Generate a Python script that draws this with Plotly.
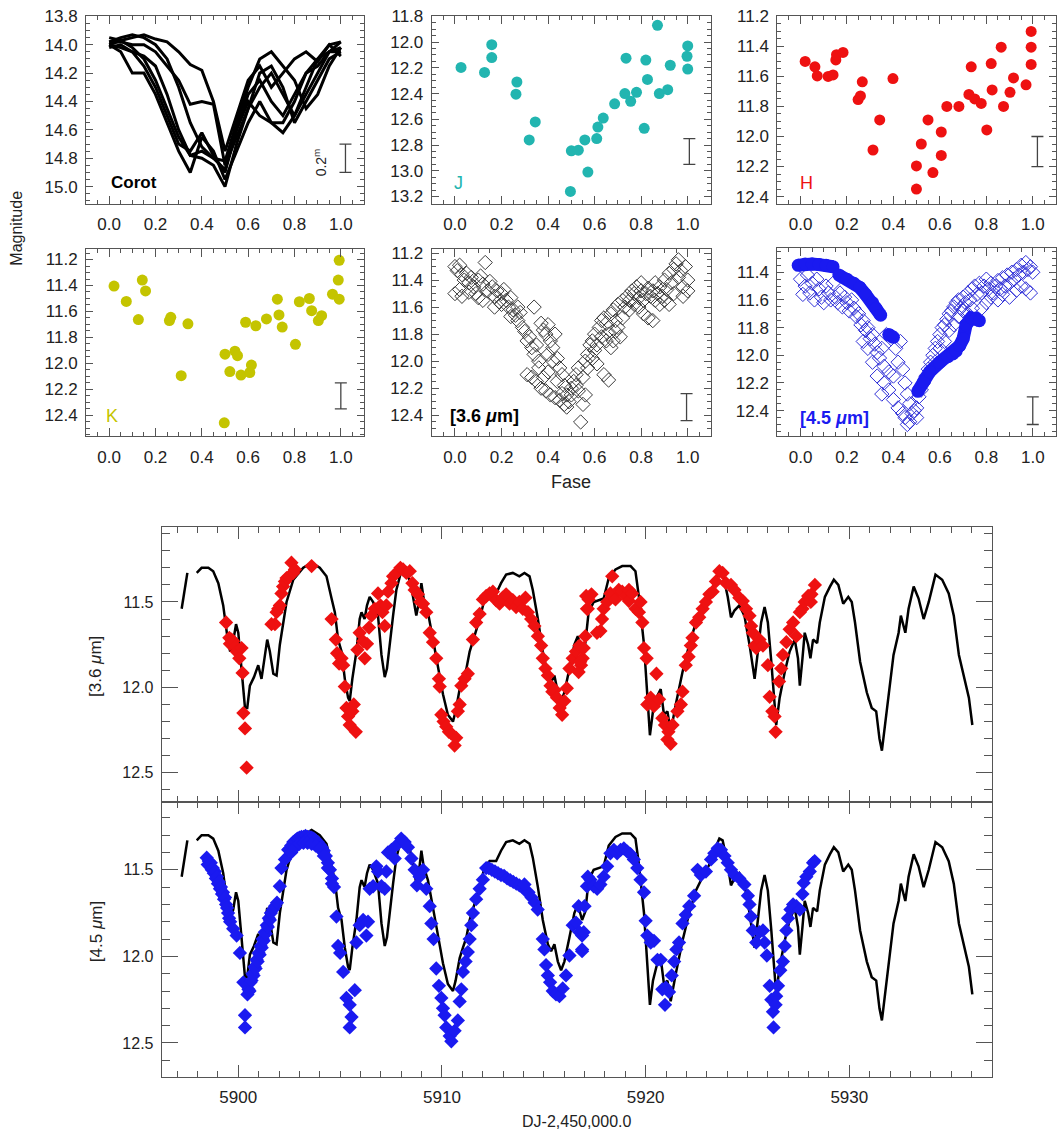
import plotly.graph_objects as go

W, H = 1058, 1137
FONT = "Liberation Sans, Arial, sans-serif"
AX = "#555555"
TXT = "#222222"
TEAL = "#22b5b0"
RED = "#ee1111"
OLIVE = "#c4c400"
BLUE = "#1a1af0"

# ---------------- phase-folded panels ----------------
corot_phase = [0.00, 0.05, 0.10, 0.15, 0.20, 0.25, 0.30, 0.35, 0.40, 0.45, 0.50,
               0.55, 0.60, 0.65, 0.70, 0.75, 0.80, 0.85, 0.90, 0.95, 1.00]
corot_cycle1 = [14.00, 13.97, 13.95, 13.93, 13.96, 13.98, 14.05, 14.14, 14.18, 14.40, 14.75,
                14.50, 14.25, 14.15, 14.30, 14.20, 14.10, 14.05, 14.12, 14.00, 13.98]
corot_cycle2 = [13.98, 13.98, 14.00, 14.00, 14.05, 14.15, 14.25, 14.42, 14.40, 14.42, 14.85,
                14.65, 14.45, 14.30, 14.20, 14.35, 14.50, 14.30, 14.10, 14.05, 14.02]
corot_cycle3 = [14.00, 14.05, 14.20, 14.20, 14.35, 14.55, 14.75, 14.90, 14.65, 14.75, 14.95,
                14.75, 14.55, 14.40, 14.55, 14.62, 14.50, 14.35, 14.20, 14.05, 14.05]
corot_cycle4 = [13.95, 13.97, 14.02, 14.10, 14.25, 14.45, 14.65, 14.78, 14.80, 14.85, 15.00,
                14.70, 14.45, 14.20, 14.15, 14.30, 14.55, 14.40, 14.25, 14.10, 14.05]
corot_cycle5 = [14.02, 14.00, 14.05, 14.15, 14.30, 14.50, 14.70, 14.75, 14.62, 14.78, 14.90,
                14.60, 14.35, 14.25, 14.40, 14.50, 14.35, 14.20, 14.10, 14.00, 14.08]
corot_cycle6 = [13.98, 13.95, 13.93, 13.95, 14.00, 14.10, 14.30, 14.55, 14.72, 14.80, 14.82,
                14.55, 14.30, 14.10, 14.05, 14.15, 14.25, 14.45, 14.35, 14.15, 14.02]
corot_cycle7 = [14.00, 14.02, 14.05, 14.08, 14.15, 14.35, 14.60, 14.78, 14.75, 14.80, 14.88,
                14.60, 14.40, 14.50, 14.55, 14.55, 14.40, 14.20, 14.15, 14.05, 13.98]
corot_cycles = [corot_cycle1, corot_cycle2, corot_cycle3, corot_cycle4,
                corot_cycle5, corot_cycle6, corot_cycle7]

j_phase = [0.026, 0.127, 0.158, 0.158, 0.266, 0.262, 0.319, 0.345, 0.496, 0.50, 0.53, 0.558,
           0.571, 0.609, 0.614, 0.637, 0.686, 0.73, 0.735, 0.755, 0.78, 0.813, 0.82, 0.827,
           0.87, 0.878, 0.914, 0.925, 1.0, 0.997, 1.0]
j_mag = [12.197, 12.236, 12.02, 12.12, 12.31, 12.405, 12.76, 12.62, 13.16, 12.845, 12.84, 12.76,
         13.01, 12.75, 12.66, 12.59, 12.48, 12.40, 12.125, 12.46, 12.39, 12.67, 12.14, 12.29,
         11.87, 12.40, 12.37, 12.18, 12.03, 12.11, 12.21]

h_phase = [0.02, 0.062, 0.072, 0.119, 0.14, 0.152, 0.155, 0.183, 0.248, 0.258, 0.266, 0.312,
           0.341, 0.398, 0.499, 0.499, 0.52, 0.549, 0.57, 0.606, 0.606, 0.63, 0.682, 0.725,
           0.735, 0.75, 0.778, 0.802, 0.821, 0.825, 0.864, 0.874, 0.902, 0.917, 0.971, 0.993,
           0.993, 0.993]
h_mag = [11.50, 11.536, 11.597, 11.60, 11.59, 11.49, 11.455, 11.44, 11.754, 11.73, 11.636, 12.09,
         11.89, 11.614, 12.35, 12.196, 12.05, 11.89, 12.24, 11.97, 12.126, 11.80, 11.80, 11.72,
         11.536, 11.75, 11.78, 11.956, 11.514, 11.69, 11.405, 11.80, 11.706, 11.61, 11.656, 11.30,
         11.405, 11.52]

k_phase = [0.021, 0.074, 0.126, 0.143, 0.157, 0.26, 0.266, 0.34, 0.311, 0.497, 0.5, 0.521,
           0.543, 0.554, 0.569, 0.589, 0.607, 0.614, 0.633, 0.679, 0.726, 0.733, 0.747, 0.804,
           0.821, 0.864, 0.874, 0.903, 0.917, 0.964, 0.993, 0.989, 0.993]
k_mag = [11.404, 11.523, 11.662, 11.358, 11.442, 11.67, 11.645, 11.695, 12.094, 12.457, 11.929,
         12.063, 11.906, 11.94, 12.09, 11.683, 12.07, 12.013, 11.71, 11.657, 11.505, 11.627, 11.72,
         11.853, 11.525, 11.50, 11.594, 11.67, 11.632, 11.467, 11.505, 11.358, 11.206]

ch1_fold = [
    (0.00, 11.30), (0.01, 11.33), (0.02, 11.29), (0.03, 11.36), (0.00, 11.50), (0.02, 11.47),
    (0.04, 11.40), (0.05, 11.35), (0.06, 11.42), (0.07, 11.38), (0.08, 11.45), (0.09, 11.50),
    (0.10, 11.40), (0.11, 11.37), (0.12, 11.43), (0.13, 11.27), (0.14, 11.48), (0.15, 11.41),
    (0.03, 11.52), (0.06, 11.49), (0.10, 11.53), (0.12, 11.55),
    (0.16, 11.45), (0.17, 11.52), (0.18, 11.48), (0.19, 11.56), (0.20, 11.50), (0.21, 11.47),
    (0.22, 11.55), (0.23, 11.60), (0.24, 11.53), (0.25, 11.62), (0.26, 11.66), (0.27, 11.70),
    (0.28, 11.64), (0.29, 11.75), (0.30, 11.78), (0.20, 11.58), (0.17, 11.60), (0.24, 11.67),
    (0.27, 11.60),
    (0.31, 11.85), (0.32, 11.82), (0.33, 11.90), (0.34, 11.60), (0.34, 11.95), (0.35, 11.88),
    (0.36, 12.00), (0.37, 11.72), (0.38, 11.77), (0.39, 11.80), (0.40, 11.73), (0.41, 11.85),
    (0.42, 11.90), (0.43, 11.80), (0.44, 11.98), (0.45, 12.05), (0.46, 12.10), (0.47, 12.18),
    (0.48, 12.25), (0.49, 12.30), (0.50, 12.20), (0.31, 12.10), (0.33, 12.12), (0.35, 12.15),
    (0.37, 12.20), (0.39, 12.22), (0.41, 12.25), (0.43, 12.27), (0.45, 12.29), (0.47, 12.32),
    (0.48, 12.34), (0.36, 12.05), (0.40, 12.08), (0.42, 12.00), (0.38, 12.12), (0.44, 12.15),
    (0.46, 12.24), (0.40, 11.95),
    (0.50, 12.25), (0.51, 12.15), (0.52, 12.10), (0.53, 12.05), (0.54, 12.45), (0.52, 12.18),
    (0.55, 12.32), (0.53, 12.22), (0.56, 12.00), (0.57, 11.95), (0.58, 11.88), (0.59, 11.85),
    (0.60, 11.80), (0.56, 12.25), (0.55, 12.12), (0.57, 12.05), (0.59, 11.98), (0.60, 11.92),
    (0.61, 12.02), (0.62, 11.75), (0.63, 11.70), (0.64, 11.68), (0.65, 11.72), (0.66, 11.80),
    (0.67, 11.65), (0.68, 11.62), (0.69, 11.70), (0.70, 11.58), (0.61, 11.88), (0.63, 11.82),
    (0.65, 11.85), (0.66, 12.14), (0.64, 12.10), (0.67, 11.90), (0.68, 11.85), (0.69, 11.78),
    (0.70, 11.75), (0.71, 11.82), (0.72, 11.68),
    (0.72, 11.55), (0.73, 11.60), (0.74, 11.52), (0.75, 11.55), (0.76, 11.48), (0.77, 11.50),
    (0.78, 11.45), (0.79, 11.53), (0.80, 11.48), (0.81, 11.55), (0.82, 11.50), (0.83, 11.46),
    (0.84, 11.52), (0.85, 11.48), (0.75, 11.62), (0.77, 11.58), (0.79, 11.60), (0.81, 11.65),
    (0.83, 11.68), (0.85, 11.70), (0.80, 11.42), (0.86, 11.42),
    (0.86, 11.55), (0.87, 11.50), (0.88, 11.45), (0.89, 11.52), (0.90, 11.40), (0.91, 11.47),
    (0.92, 11.35), (0.93, 11.42), (0.94, 11.50), (0.95, 11.28), (0.96, 11.38), (0.97, 11.33),
    (0.98, 11.45), (0.99, 11.30), (1.00, 11.40), (1.00, 11.48), (0.96, 11.25), (0.94, 11.32),
    (0.90, 11.55), (0.92, 11.58), (0.98, 11.52), (0.88, 11.58),
]

ch2_fold = [
    (0.00, 11.45), (0.01, 11.56), (0.02, 11.50), (0.03, 11.42), (0.04, 11.55), (0.05, 11.48),
    (0.06, 11.60), (0.07, 11.45), (0.08, 11.52), (0.09, 11.58), (0.10, 11.62), (0.11, 11.50),
    (0.12, 11.55), (0.13, 11.60), (0.14, 11.48), (0.15, 11.58), (0.16, 11.62), (0.17, 11.55),
    (0.18, 11.65), (0.19, 11.58), (0.20, 11.62), (0.21, 11.68), (0.22, 11.60), (0.23, 11.66),
    (0.24, 11.72), (0.25, 11.70), (0.26, 11.78), (0.27, 11.75), (0.28, 11.82), (0.29, 11.80),
    (0.30, 11.88), (0.31, 11.85), (0.32, 11.92), (0.33, 11.98), (0.34, 12.02), (0.35, 11.95),
    (0.36, 12.08), (0.37, 11.85), (0.38, 12.12), (0.39, 11.88), (0.40, 12.15), (0.41, 11.95),
    (0.42, 12.05), (0.43, 11.90), (0.44, 12.10), (0.45, 12.20), (0.46, 12.28), (0.47, 12.35),
    (0.48, 12.42), (0.45, 12.45), (0.46, 12.50), (0.47, 12.48), (0.49, 12.40), (0.50, 12.38),
    (0.51, 12.30), (0.50, 12.45), (0.52, 12.25), (0.53, 12.20), (0.54, 12.15), (0.36, 12.20),
    (0.38, 12.25), (0.40, 12.32), (0.42, 12.38), (0.44, 12.42), (0.35, 12.28), (0.33, 12.15),
    (0.31, 12.05), (0.29, 11.95), (0.27, 11.90),
    (0.55, 12.10), (0.56, 12.05), (0.57, 12.00), (0.58, 11.95), (0.59, 11.90), (0.60, 11.85),
    (0.61, 11.80), (0.62, 11.78), (0.63, 11.74), (0.64, 11.70), (0.65, 11.68), (0.66, 11.65),
    (0.67, 11.62), (0.68, 11.60), (0.69, 11.66), (0.70, 11.58), (0.71, 11.62), (0.72, 11.55),
    (0.73, 11.60), (0.74, 11.52), (0.60, 11.95), (0.62, 11.90), (0.58, 12.05), (0.64, 11.82),
    (0.66, 11.78), (0.68, 11.72), (0.70, 11.68), (0.72, 11.70), (0.74, 11.66),
    (0.75, 11.50), (0.76, 11.56), (0.77, 11.48), (0.78, 11.55), (0.79, 11.50), (0.80, 11.45),
    (0.81, 11.52), (0.82, 11.48), (0.83, 11.55), (0.84, 11.50), (0.85, 11.46), (0.86, 11.52),
    (0.87, 11.44), (0.88, 11.50), (0.89, 11.42), (0.90, 11.48), (0.91, 11.40), (0.92, 11.45),
    (0.93, 11.38), (0.94, 11.42), (0.95, 11.35), (0.96, 11.40), (0.97, 11.33), (0.98, 11.38),
    (0.99, 11.36), (1.00, 11.40), (0.97, 11.52), (0.99, 11.55), (0.95, 11.50), (0.93, 11.53),
    (0.90, 11.58), (0.87, 11.56), (0.85, 11.60), (0.80, 11.62), (0.78, 11.66), (0.82, 11.58),
]

# dense staring-mode runs at 4.5 um (filled streaks)
stare_a_phase = [-0.01, 0.02, 0.05, 0.08, 0.11, 0.14]
stare_a_mag = [11.35, 11.34, 11.34, 11.345, 11.35, 11.36]
stare_b_phase = [0.165, 0.20, 0.23, 0.255, 0.28, 0.31, 0.325, 0.345]
stare_b_mag = [11.42, 11.45, 11.48, 11.51, 11.56, 11.62, 11.66, 11.71]
stare_c_phase = [0.505, 0.53, 0.556, 0.60, 0.635, 0.656, 0.67, 0.685, 0.70, 0.713, 0.735, 0.755, 0.77]
stare_c_mag = [12.26, 12.19, 12.12, 12.05, 12.01, 11.99, 11.97, 11.93, 11.88, 11.78, 11.73, 11.73, 11.75]
stare_d_phase = [0.38, 0.40]
stare_d_mag = [11.85, 11.87]

# 0.2 mag error bar per panel (x position, centre)
errbar_x = [1.02, 1.007, 1.02, 1.0, 0.995, 1.0]
errbar_y = [14.80, 12.85, 12.10, 12.25, 12.34, 12.40]
errbar_half = 0.1

# ---------------- time-series panels ----------------
corot_t = [5897.22, 5897.50, None,
           5897.96, 5898.20, 5898.53, 5898.77, 5899.02, 5899.26, 5899.46, 5899.60, 5899.75, 5899.89,
           5900.00, 5900.16, 5900.33, 5900.44, 5900.57, 5900.77, 5900.98, 5901.14, 5901.27, 5901.42,
           5901.55, 5901.72, 5901.88, 5902.04, 5902.37, 5902.70, 5903.19, 5903.60, 5904.00, 5904.33,
           5904.58, 5904.74, 5904.90, 5905.07, 5905.23, 5905.39, 5905.47, 5905.60, 5905.80, 5905.96,
           5906.05, 5906.20, 5906.32, 5906.45, 5906.62, 5906.86, 5907.03, 5907.19, 5907.30, 5907.43,
           5907.60, 5907.76, 5908.00, 5908.25, 5908.40, 5908.58, 5908.74, 5908.90, 5908.99, 5909.10,
           5909.31, 5909.56, 5909.80, 5910.05, 5910.29, 5910.54, 5910.67, 5910.87, 5911.03, 5911.20,
           5911.36, 5911.60, 5911.85, 5912.10, 5912.34, 5912.66, 5912.90, 5913.15, 5913.48, 5913.80,
           5914.05, 5914.30, 5914.46, 5914.71, 5914.95, 5915.20, 5915.36, 5915.52, 5915.69, 5915.85,
           5916.01, 5916.26, 5916.50, 5916.67, 5916.88, 5917.04, 5917.20, 5917.45, 5917.70, 5917.94,
           5918.19, 5918.52, 5918.85, 5919.26, 5919.50, 5919.67, 5919.92, 5920.08, 5920.21, 5920.36,
           5920.53, 5920.74, 5920.90, 5921.07, 5921.23, 5921.48, 5921.81, 5922.14, 5922.47, 5922.80,
           5923.13, 5923.37, 5923.62, 5923.78, 5924.03, 5924.19, 5924.36, 5924.60, 5924.85, 5925.10,
           5925.35, 5925.51, 5925.67, 5925.84, 5926.00, 5926.17, 5926.33, 5926.41, 5926.58, 5926.83,
           5927.07, 5927.32, 5927.48, 5927.57, 5927.70, 5927.81, 5927.98, 5928.09, 5928.22, 5928.42,
           5928.55, 5928.80, 5929.05, 5929.24, 5929.46, 5929.70, 5929.95, 5930.12, 5930.28, 5930.53,
           5930.86, 5931.10, 5931.32, 5931.48, 5931.60, 5931.76, 5931.92, 5932.17, 5932.42, 5932.53,
           5932.75, 5932.91, 5933.16, 5933.40, 5933.65, 5933.90, 5934.23, 5934.56, 5934.88, 5935.13,
           5935.38, 5935.62, 5935.87, 5936.04]
corot_m = [11.54, 11.33, None,
           11.33, 11.30, 11.30, 11.32, 11.39, 11.52, 11.70, 11.79, 11.73, 11.63,
           11.68, 11.91, 12.12, 12.12, 11.99, 11.94, 11.87, 11.95, 11.85, 11.72,
           11.79, 11.92, 11.93, 11.75, 11.50, 11.37, 11.30, 11.27, 11.30, 11.35,
           11.48, 11.56, 11.72, 11.79, 11.95, 12.06, 12.08, 11.95, 11.79, 11.60,
           11.56, 11.60, 11.52, 11.47, 11.50, 11.58, 11.81, 11.94, 11.89, 11.74,
           11.58, 11.43, 11.32, 11.33, 11.37, 11.47, 11.58, 11.48, 11.39, 11.48,
           11.56, 11.72, 11.87, 12.04, 12.16, 12.20, 12.14, 12.01, 11.95, 11.89,
           11.79, 11.70, 11.60, 11.48, 11.45, 11.45, 11.39, 11.34, 11.33, 11.35,
           11.33, 11.35, 11.43, 11.60, 11.79, 11.93, 11.97, 11.93, 12.03, 12.08,
           12.03, 11.89, 11.75, 11.70, 11.79, 11.74, 11.56, 11.50, 11.49, 11.48,
           11.36, 11.31, 11.29, 11.29, 11.32, 11.47, 11.75, 12.06, 12.28, 12.14,
           12.06, 12.01, 12.16, 12.14, 12.26, 12.10, 11.91, 11.75, 11.62, 11.54,
           11.47, 11.39, 11.32, 11.33, 11.47, 11.59, 11.55, 11.52, 11.58, 11.75,
           11.95, 11.79, 11.62, 11.53, 11.62, 11.85, 12.14, 12.22, 12.06, 11.91,
           11.79, 11.72, 11.83, 11.99, 11.83, 11.68, 11.75, 11.83, 11.72, 11.74,
           11.62, 11.47, 11.41, 11.37, 11.40, 11.51, 11.47, 11.50, 11.62, 11.85,
           12.03, 12.12, 12.14, 12.30, 12.37, 12.22, 12.06, 11.81, 11.68, 11.58,
           11.68, 11.54, 11.41, 11.48, 11.60, 11.50, 11.34, 11.37, 11.45, 11.58,
           11.81, 11.93, 12.06, 12.22]

ch1_series = [
    (5899.40, 11.62), (5899.56, 11.71), (5899.67, 11.72), (5899.59, 11.745), (5899.75, 11.73),
    (5899.84, 11.76), (5899.92, 11.79), (5900.05, 11.83), (5900.16, 11.77), (5900.21, 11.915),
    (5900.25, 12.15), (5900.33, 12.24), (5900.41, 12.47),
    (5901.63, 11.63), (5901.80, 11.63), (5901.88, 11.56), (5901.96, 11.54), (5902.04, 11.52),
    (5902.12, 11.45), (5902.20, 11.41), (5902.29, 11.38), (5902.37, 11.36), (5902.50, 11.35),
    (5902.61, 11.27), (5902.70, 11.33), (5902.78, 11.31), (5903.60, 11.29),
    (5904.58, 11.60), (5904.79, 11.72), (5904.85, 11.80), (5904.95, 11.86), (5905.07, 11.83),
    (5905.15, 11.87), (5905.23, 11.995), (5905.31, 12.12), (5905.39, 12.17), (5905.47, 12.22),
    (5905.60, 12.14), (5905.67, 12.10), (5905.77, 12.26),
    (5905.85, 11.78), (5905.96, 11.68), (5906.13, 11.73), (5906.21, 11.83), (5906.32, 11.745),
    (5906.42, 11.65), (5906.54, 11.58), (5906.70, 11.54), (5906.86, 11.45), (5906.98, 11.52),
    (5907.08, 11.56), (5907.19, 11.64), (5907.27, 11.52), (5907.35, 11.44), (5907.52, 11.39),
    (5907.60, 11.35), (5907.76, 11.33), (5907.96, 11.30), (5908.09, 11.31), (5908.25, 11.33),
    (5908.42, 11.32), (5908.55, 11.39), (5908.66, 11.43), (5908.82, 11.455), (5908.94, 11.50),
    (5909.07, 11.51), (5909.23, 11.56), (5909.40, 11.68), (5909.56, 11.735), (5909.72, 11.83),
    (5909.85, 11.95), (5909.89, 11.995), (5909.97, 12.16), (5910.08, 12.20), (5910.21, 12.23),
    (5910.34, 12.26), (5910.46, 12.27), (5910.62, 12.34), (5910.70, 12.295), (5910.78, 12.14),
    (5910.87, 12.10), (5910.95, 11.99), (5911.11, 11.95), (5911.27, 11.92), (5911.52, 11.72),
    (5911.68, 11.62), (5911.85, 11.57), (5912.01, 11.485), (5912.17, 11.465), (5912.34, 11.45),
    (5912.50, 11.44), (5912.66, 11.49), (5912.83, 11.51), (5912.99, 11.475), (5913.15, 11.455),
    (5913.32, 11.51), (5913.48, 11.49), (5913.64, 11.53), (5913.80, 11.50), (5913.97, 11.54),
    (5914.10, 11.475), (5914.22, 11.56), (5914.38, 11.60), (5914.54, 11.64), (5914.71, 11.70),
    (5914.87, 11.755), (5914.95, 11.83), (5915.08, 11.89), (5915.20, 11.93), (5915.33, 11.99),
    (5915.42, 12.025), (5915.54, 12.015), (5915.65, 12.06), (5915.78, 12.12), (5915.90, 12.16),
    (5916.01, 12.08), (5916.13, 12.005), (5916.26, 11.89), (5916.42, 11.83), (5916.58, 11.79),
    (5916.75, 11.755), (5916.83, 11.87), (5916.91, 11.83), (5917.08, 11.465), (5917.16, 11.54),
    (5916.71, 11.91), (5916.79, 11.85), (5916.96, 11.77), (5917.04, 11.70), (5917.12, 11.54),
    (5917.20, 11.485), (5917.34, 11.455), (5917.61, 11.68), (5917.78, 11.67), (5917.86, 11.60),
    (5917.94, 11.54), (5918.11, 11.50), (5918.27, 11.45), (5918.36, 11.35), (5918.52, 11.485),
    (5918.68, 11.43), (5918.85, 11.44), (5919.01, 11.465), (5919.18, 11.43), (5919.18, 11.495),
    (5919.34, 11.45), (5919.51, 11.54), (5919.67, 11.56), (5919.75, 11.50), (5919.84, 11.62),
    (5919.92, 11.77), (5920.05, 11.83), (5920.53, 11.92), (5920.08, 12.10), (5920.25, 12.06),
    (5920.41, 12.11), (5920.66, 12.07), (5920.82, 12.18), (5920.95, 12.22), (5921.07, 12.305),
    (5921.23, 12.33), (5921.12, 12.26), (5921.32, 12.22), (5921.56, 12.14), (5921.73, 12.10),
    (5921.81, 12.025), (5921.97, 11.87), (5922.11, 11.82), (5922.22, 11.755), (5922.30, 11.71),
    (5922.47, 11.62), (5922.63, 11.59), (5922.80, 11.54), (5922.96, 11.50), (5923.13, 11.455),
    (5923.29, 11.44), (5923.45, 11.38), (5923.62, 11.32), (5923.78, 11.33), (5923.95, 11.39),
    (5924.19, 11.40), (5924.36, 11.43), (5924.60, 11.475), (5924.77, 11.495), (5924.93, 11.54),
    (5925.10, 11.58), (5925.18, 11.64), (5925.26, 11.68), (5925.35, 11.755), (5925.43, 11.77),
    (5925.59, 11.72), (5925.76, 11.755), (5926.00, 11.87), (5926.09, 12.055), (5926.22, 12.14),
    (5926.33, 12.17), (5926.38, 12.26), (5926.55, 11.965), (5926.66, 11.89), (5926.74, 11.81),
    (5926.91, 11.735), (5927.07, 11.66), (5927.24, 11.62), (5927.40, 11.70), (5927.57, 11.56),
    (5927.70, 11.54), (5927.81, 11.50), (5927.98, 11.465), (5928.11, 11.50), (5928.14, 11.455),
    (5928.31, 11.40),
]

ch2_series = [
    (5898.45, 11.43), (5898.50, 11.47), (5898.55, 11.45), (5898.60, 11.48), (5898.65, 11.46),
    (5898.70, 11.50), (5898.75, 11.49), (5898.80, 11.52), (5898.85, 11.51), (5898.90, 11.55),
    (5898.95, 11.54), (5899.00, 11.58), (5899.05, 11.57), (5899.10, 11.61), (5899.15, 11.60),
    (5899.20, 11.64), (5899.25, 11.63), (5899.30, 11.67), (5899.35, 11.66), (5899.40, 11.70),
    (5899.45, 11.72), (5899.50, 11.75), (5899.55, 11.78), (5899.60, 11.80),
    (5899.75, 11.84), (5899.92, 11.88), (5900.08, 11.98), (5900.25, 12.15), (5900.33, 12.34),
    (5900.33, 12.41),
    (5900.45, 12.22), (5900.50, 12.19), (5900.55, 12.20), (5900.60, 12.15), (5900.65, 12.14),
    (5900.70, 12.10), (5900.75, 12.11), (5900.80, 12.06), (5900.85, 12.07), (5900.90, 12.02),
    (5900.95, 12.03), (5901.00, 11.98), (5901.05, 11.99), (5901.10, 11.94), (5901.15, 11.95),
    (5901.20, 11.90), (5901.25, 11.91), (5901.30, 11.86), (5901.35, 11.87), (5901.40, 11.82),
    (5901.45, 11.83), (5901.50, 11.78), (5901.55, 11.79), (5901.60, 11.75), (5901.70, 11.73),
    (5901.80, 11.71), (5901.90, 11.69),
    (5902.04, 11.595), (5902.12, 11.49), (5902.29, 11.44), (5902.45, 11.385),
    (5902.50, 11.38), (5902.60, 11.36), (5902.70, 11.34), (5902.80, 11.33), (5902.90, 11.32),
    (5903.00, 11.315), (5903.10, 11.31), (5903.20, 11.31), (5903.30, 11.305), (5903.40, 11.31),
    (5903.50, 11.31), (5903.60, 11.315), (5903.70, 11.32), (5903.80, 11.33), (5903.90, 11.34),
    (5904.00, 11.355), (5904.10, 11.37), (5904.20, 11.39), (5904.30, 11.42), (5904.40, 11.46),
    (5904.50, 11.50), (5904.60, 11.55), (5904.70, 11.60), (5902.60, 11.40), (5902.80, 11.37),
    (5903.00, 11.35), (5903.20, 11.345), (5903.40, 11.345), (5903.60, 11.35), (5903.80, 11.36),
    (5904.00, 11.38), (5904.20, 11.42), (5904.40, 11.49), (5904.60, 11.58),
    (5904.82, 11.77), (5904.90, 11.94), (5905.00, 11.98), (5905.15, 12.09), (5905.31, 12.24),
    (5905.47, 12.28), (5905.47, 12.41), (5905.56, 12.35), (5905.72, 12.195), (5905.80, 11.92),
    (5905.96, 11.82), (5906.13, 11.79), (5906.29, 11.88), (5906.37, 11.80), (5906.45, 11.61),
    (5906.62, 11.595), (5906.78, 11.48), (5906.86, 11.51), (5907.03, 11.595), (5907.19, 11.61),
    (5907.27, 11.51), (5907.35, 11.40), (5907.52, 11.385), (5907.68, 11.435), (5907.84, 11.35),
    (5908.00, 11.32), (5908.17, 11.34), (5908.33, 11.37), (5908.50, 11.435), (5908.66, 11.50),
    (5908.77, 11.59), (5908.90, 11.54), (5909.07, 11.50), (5909.23, 11.61), (5909.40, 11.71),
    (5909.48, 11.81), (5909.59, 11.90), (5909.72, 12.07), (5909.85, 12.17), (5909.97, 12.24),
    (5910.05, 12.30), (5910.13, 12.34), (5910.21, 12.41), (5910.38, 12.46), (5910.46, 12.49),
    (5910.62, 12.43), (5910.78, 12.37), (5910.87, 12.26), (5910.95, 12.19), (5911.03, 12.09),
    (5911.16, 12.03), (5911.27, 11.975), (5911.36, 11.90), (5911.44, 11.82), (5911.52, 11.75),
    (5911.68, 11.67), (5911.85, 11.61), (5912.01, 11.557), (5912.17, 11.49),
    (5912.30, 11.49), (5912.45, 11.50), (5912.60, 11.51), (5912.75, 11.52), (5912.90, 11.53),
    (5913.05, 11.535), (5913.20, 11.55), (5913.35, 11.56), (5913.50, 11.57), (5913.65, 11.58),
    (5913.80, 11.59), (5913.95, 11.60), (5914.10, 11.62), (5914.25, 11.63), (5914.40, 11.66),
    (5914.55, 11.69), (5914.70, 11.73), (5914.05, 11.585),
    (5914.95, 11.90), (5915.03, 11.96), (5915.11, 12.05), (5915.20, 12.11), (5915.31, 12.15),
    (5915.44, 12.20), (5915.60, 12.22), (5915.77, 12.23), (5915.93, 12.185), (5916.09, 12.11),
    (5916.26, 11.995), (5916.42, 11.82), (5916.58, 11.805), (5916.75, 11.86), (5916.88, 11.96),
    (5917.00, 11.71), (5917.16, 11.54),
    (5916.71, 11.71), (5916.88, 11.88), (5916.88, 11.97), (5916.96, 11.86), (5917.12, 11.595),
    (5917.29, 11.557), (5917.45, 11.595), (5917.62, 11.61), (5917.78, 11.585), (5917.94, 11.54),
    (5918.11, 11.48), (5918.27, 11.405), (5918.44, 11.385), (5918.60, 11.405), (5918.77, 11.385),
    (5918.93, 11.376), (5919.10, 11.395), (5919.26, 11.41), (5919.42, 11.44), (5919.59, 11.49),
    (5919.75, 11.557), (5919.92, 11.63), (5920.00, 11.795), (5920.08, 11.88), (5920.25, 11.92),
    (5920.41, 11.91), (5920.58, 12.02), (5920.74, 12.02), (5920.82, 12.19), (5920.99, 12.18),
    (5920.95, 12.28), (5921.15, 12.205), (5921.28, 12.11), (5921.40, 12.03), (5921.51, 11.96),
    (5921.64, 11.92), (5921.81, 11.81), (5921.97, 11.76), (5922.14, 11.71), (5922.38, 11.65),
    (5922.55, 11.50), (5922.71, 11.53), (5922.96, 11.51), (5923.21, 11.44), (5923.37, 11.405),
    (5923.54, 11.376), (5923.70, 11.385), (5923.87, 11.42), (5924.03, 11.46), (5924.19, 11.50),
    (5924.36, 11.53), (5924.60, 11.55), (5924.85, 11.585), (5925.02, 11.65), (5925.10, 11.70),
    (5925.18, 11.77), (5925.26, 11.85), (5925.43, 11.92), (5925.59, 11.86), (5925.76, 11.85),
    (5925.84, 11.92), (5925.95, 11.995), (5926.09, 12.17), (5926.17, 12.25), (5926.25, 12.32),
    (5926.28, 12.41), (5926.38, 12.28), (5926.41, 12.23), (5926.50, 12.17), (5926.61, 12.08),
    (5926.74, 12.03), (5926.83, 11.94), (5926.91, 11.85), (5926.99, 11.78), (5927.11, 11.73),
    (5927.24, 11.70), (5927.40, 11.71), (5927.57, 11.73), (5927.70, 11.64), (5927.76, 11.576),
    (5927.89, 11.54), (5928.06, 11.51), (5928.22, 11.46), (5928.30, 11.45),
]

ch1_t = [p[0] for p in ch1_series]
ch1_m = [p[1] for p in ch1_series]
ch2_t = [p[0] for p in ch2_series]
ch2_m = [p[1] for p in ch2_series]
ch1_fold_ph = [p[0] for p in ch1_fold]
ch1_fold_m = [p[1] for p in ch1_fold]
ch2_fold_ph = [p[0] for p in ch2_fold]
ch2_fold_m = [p[1] for p in ch2_fold]

# ---------------- layout geometry (pixels) ----------------
def dx(a, b):
    return [a / W, b / W]


def dy(top, bottom):
    return [1 - bottom / H, 1 - top / H]


panels = [
    ((86, 364), (7.3, 196.7), [15.12, 13.799]),
    ((431.7, 711), (7.3, 196.7), [13.255, 11.799]),
    ((777.3, 1056), (7.3, 196.7), [12.447, 11.199]),
    ((86, 364), (242.7, 431.7), [12.56, 11.12]),
    ((431.7, 711), (242.7, 431.7), [12.555, 11.171]),
    ((777.3, 1056), (241.7, 431.7), [12.584, 11.226]),
]

fig = go.Figure()
layout = dict(
    width=W, height=H, margin=dict(l=0, r=0, t=0, b=0),
    paper_bgcolor="white", plot_bgcolor="white", showlegend=False,
    font=dict(family=FONT, color=TXT),
)


def axis_common(size):
    return dict(ticks="inside", tickcolor=AX, tickwidth=1, showline=True, linecolor=AX,
                linewidth=1, mirror="allticks", showgrid=False, zeroline=False,
                tickfont=dict(family=FONT, size=size, color=TXT))


for i, (xs, ys, yr) in enumerate(panels, start=1):
    sfx = "" if i == 1 else str(i)
    xa = axis_common(17)
    xa.update(domain=dx(*xs), range=[-0.1, 1.1], anchor="y" + sfx, dtick=0.2, tick0=0,
              ticklen=8, tickformat=".1f", ticklabelstandoff=5,
              minor=dict(ticks="inside", ticklen=4, dtick=0.05, tickcolor=AX, showgrid=False))
    ya = axis_common(17)
    ya.update(domain=dy(*ys), range=yr, anchor="x" + sfx, dtick=0.2, tick0=0,
              ticklen=7, tickformat=".1f", ticklabelstandoff=4,
              minor=dict(ticks="inside", ticklen=4, dtick=0.05, tickcolor=AX, showgrid=False))
    layout["xaxis" + sfx] = xa
    layout["yaxis" + sfx] = ya

xs_b = (161.7, 992.3)
ts_axes = [(7, (524, 801.7), [12.672, 11.064], False),
           (8, (801.7, 1079.3), [12.696, 11.11], True)]
for i, ys, yr, lab in ts_axes:
    sfx = str(i)
    xa = axis_common(17)
    xa.update(domain=dx(*xs_b), range=[5896.24, 5937.02], anchor="y" + sfx, dtick=10, tick0=0,
              ticklen=12, showticklabels=lab, tickformat="d", ticklabelstandoff=5,
              minor=dict(ticks="inside", ticklen=6, dtick=1, tickcolor=AX, showgrid=False))
    ya = axis_common(16)
    ya.update(domain=dy(*ys), range=yr, anchor="x" + sfx, dtick=0.5, tick0=0,
              ticklen=16, tickformat=".1f", ticklabelstandoff=4,
              minor=dict(ticks="inside", ticklen=8, dtick=0.1, tickcolor=AX, showgrid=False))
    layout["xaxis" + sfx] = xa
    layout["yaxis" + sfx] = ya

# ---------------- traces ----------------
for cyc in corot_cycles:
    fig.add_trace(go.Scatter(x=corot_phase, y=cyc, mode="lines",
                             line=dict(color="black", width=3), xaxis="x", yaxis="y"))

fig.add_trace(go.Scatter(x=j_phase, y=j_mag, mode="markers",
                         marker=dict(color=TEAL, size=11, symbol="circle"), xaxis="x2", yaxis="y2"))
fig.add_trace(go.Scatter(x=h_phase, y=h_mag, mode="markers",
                         marker=dict(color=RED, size=11, symbol="circle"), xaxis="x3", yaxis="y3"))
fig.add_trace(go.Scatter(x=k_phase, y=k_mag, mode="markers",
                         marker=dict(color=OLIVE, size=11, symbol="circle"), xaxis="x4", yaxis="y4"))
fig.add_trace(go.Scatter(x=ch1_fold_ph, y=ch1_fold_m, mode="markers",
                         marker=dict(symbol="diamond-open", size=11, color="#3a3a3a",
                                     line=dict(width=1, color="#3a3a3a")),
                         xaxis="x5", yaxis="y5"))
fig.add_trace(go.Scatter(x=ch2_fold_ph, y=ch2_fold_m, mode="markers",
                         marker=dict(symbol="diamond-open", size=11, color="#3030d8",
                                     line=dict(width=1, color="#3030d8")),
                         xaxis="x6", yaxis="y6"))
for sp, sm in [(stare_a_phase, stare_a_mag), (stare_b_phase, stare_b_mag),
               (stare_c_phase, stare_c_mag), (stare_d_phase, stare_d_mag)]:
    fig.add_trace(go.Scatter(x=sp, y=sm, mode="lines+markers",
                             line=dict(color=BLUE, width=13),
                             marker=dict(color=BLUE, size=13),
                             xaxis="x6", yaxis="y6"))

for i in range(6):
    sfx = "" if i == 0 else str(i + 1)
    fig.add_trace(go.Scatter(x=[errbar_x[i]], y=[errbar_y[i]], mode="markers",
                             marker=dict(size=1, color="rgba(0,0,0,0)"),
                             error_y=dict(type="data", array=[errbar_half], width=6,
                                          thickness=1.3, color="#444444"),
                             xaxis="x" + sfx, yaxis="y" + sfx))

for ax in ["7", "8"]:
    fig.add_trace(go.Scatter(x=corot_t, y=corot_m, mode="lines",
                             line=dict(color="black", width=2.5),
                             connectgaps=False, xaxis="x" + ax, yaxis="y" + ax))
fig.add_trace(go.Scatter(x=ch1_t, y=ch1_m, mode="markers",
                         marker=dict(symbol="diamond", size=11, color=RED),
                         xaxis="x7", yaxis="y7"))
fig.add_trace(go.Scatter(x=ch2_t, y=ch2_m, mode="markers",
                         marker=dict(symbol="diamond", size=11, color=BLUE),
                         xaxis="x8", yaxis="y8"))

# ---------------- text ----------------
def ann(text, x, y, size=16, color=TXT, angle=0, xanchor="center"):
    return dict(text=text, x=x / W, y=1 - y / H, xref="paper", yref="paper",
                showarrow=False, textangle=angle, xanchor=xanchor, yanchor="middle",
                font=dict(family=FONT, size=size, color=color))


layout["annotations"] = [
    ann("Magnitude", 17, 222, size=16, angle=-90),
    ann("Fase", 571, 478, size=18),
    ann("DJ-2,450,000.0", 577, 1124, size=16),
    ann("[3.6 <i>μ</i>m]", 96, 665, size=17, angle=-90),
    ann("[4.5 <i>μ</i>m]", 96, 933, size=17, angle=-90),
    ann("<b>Corot</b>", 109, 175, size=17, color="black", xanchor="left"),
    ann("J", 458, 176, size=18, color=TEAL),
    ann("H", 806, 176, size=18, color=RED),
    ann("K", 112, 411, size=18, color=OLIVE),
    ann("<b>[3.6 <i>μ</i>m]</b>", 448, 411, size=18, color="black", xanchor="left"),
    ann("<b>[4.5 <i>μ</i>m]</b>", 798, 413, size=18, color=BLUE, xanchor="left"),
    ann("0.2<sup>m</sup>", 320, 155, size=14, angle=-90),
]

fig.update_layout(**layout)
fig.write_html("out.html")
